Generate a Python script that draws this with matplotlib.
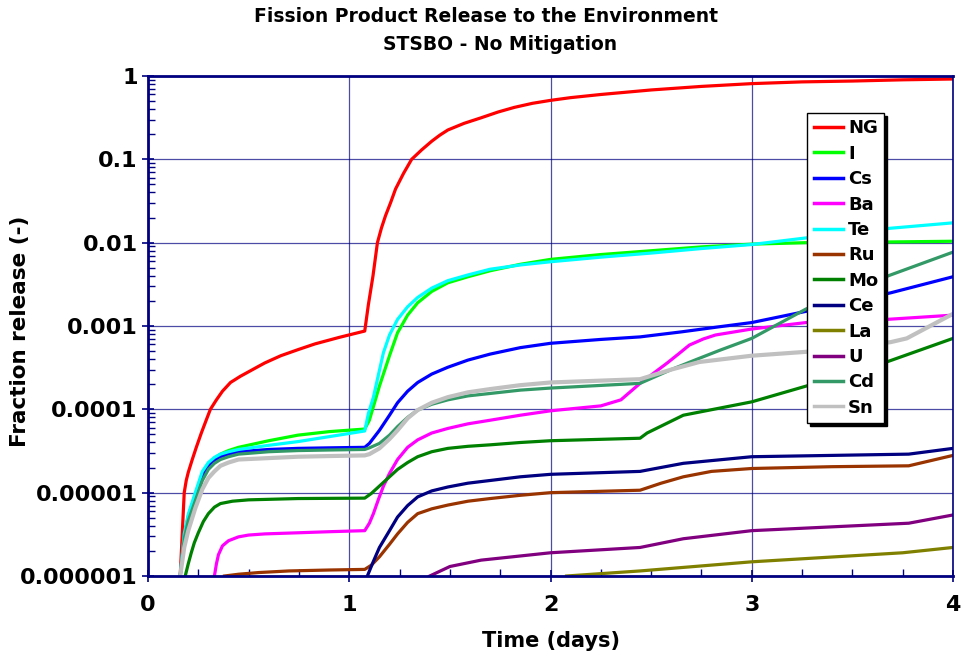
import matplotlib
matplotlib.use('Agg')
import matplotlib.pyplot as plt
from matplotlib.ticker import FixedLocator, LogLocator, MultipleLocator, NullFormatter

# the reference text is wide, DejaVu Sans Bold matches its proportions best
plt.rcParams['font.family'] = ['DejaVu Sans']
plt.rcParams['font.weight'] = 'bold'

# ---- data (time in days, fraction released) ----
ng_t = [0.16, 0.18, 0.19, 0.20, 0.22, 0.24, 0.265, 0.29, 0.31, 0.34, 0.37, 0.41, 0.46, 0.52, 0.58, 0.66,
        0.745, 0.83, 0.95, 1.077, 1.095, 1.118, 1.14, 1.16, 1.18, 1.205, 1.23, 1.27, 1.31, 1.36, 1.41,
        1.45, 1.49, 1.57, 1.655, 1.74, 1.82, 1.91, 2.0, 2.1, 2.25, 2.5, 2.75, 3.0, 3.25, 3.5, 3.75, 4.0]
ng_y = [1e-6, 1e-5, 1.4e-5, 1.75e-5, 2.5e-5, 3.5e-5, 5.2e-5, 7.5e-5, 1.0e-4, 1.3e-4, 1.65e-4, 2.1e-4, 2.5e-4, 3.0e-4, 3.6e-4, 4.4e-4,
        5.2e-4, 6.1e-4, 7.3e-4, 8.7e-4, 1.8e-3, 4.0e-3, 1.0e-2, 1.5e-2, 2.1e-2, 3.0e-2, 4.4e-2, 6.8e-2, 0.10, 0.13, 0.165,
        0.195, 0.225, 0.27, 0.315, 0.37, 0.42, 0.47, 0.51, 0.55, 0.60, 0.68, 0.75, 0.81, 0.85, 0.87, 0.90, 0.92]

early_t = [0.16, 0.18, 0.20, 0.235, 0.27, 0.30, 0.33, 0.36, 0.40, 0.45, 0.60, 0.745, 0.90, 1.077]
rise_t = [1.10, 1.15, 1.20, 1.24, 1.29, 1.34, 1.41, 1.49, 1.59, 1.70, 1.85, 2.0]

i_t = early_t + rise_t + [2.25, 2.5, 2.75, 3.0, 3.27, 3.69, 4.0]
i_y = [1e-6, 3.0e-6, 5.2e-6, 9.5e-6, 1.7e-5, 2.2e-5, 2.6e-5, 2.9e-5, 3.2e-5, 3.5e-5, 4.2e-5, 4.9e-5, 5.4e-5, 5.8e-5,
       7.4e-5, 1.9e-4, 4.4e-4, 8.3e-4, 1.35e-3, 1.9e-3, 2.6e-3, 3.3e-3, 3.9e-3, 4.6e-3, 5.5e-3, 6.3e-3,
       7.2e-3, 8.0e-3, 8.9e-3, 9.6e-3, 1.0e-2, 1.02e-2, 1.04e-2]

te_t = early_t + [1.095, 1.12, 1.145, 1.17, 1.20, 1.24, 1.29, 1.34, 1.41, 1.49, 1.59, 1.70, 1.85, 2.0,
                  2.25, 2.5, 2.75, 3.0, 3.27, 3.5, 3.69, 4.0]
te_y = [1e-6, 3.2e-6, 5.5e-6, 1e-5, 1.8e-5, 2.3e-5, 2.65e-5, 2.9e-5, 3.1e-5, 3.3e-5, 3.7e-5, 4.1e-5, 4.7e-5, 5.5e-5,
        8.9e-5, 1.4e-4, 2.6e-4, 4.8e-4, 7.8e-4, 1.2e-3, 1.7e-3, 2.2e-3, 2.85e-3, 3.5e-3, 4.1e-3, 4.8e-3, 5.4e-3, 5.9e-3,
        6.7e-3, 7.5e-3, 8.5e-3, 9.5e-3, 1.14e-2, 1.33e-2, 1.49e-2, 1.73e-2]

cs_t = early_t + rise_t + [2.25, 2.445, 2.65, 2.84, 3.0, 3.27, 3.69, 4.0]
cs_y = [1e-6, 3.0e-6, 5.0e-6, 9e-6, 1.6e-5, 2.1e-5, 2.45e-5, 2.7e-5, 2.9e-5, 3.1e-5, 3.3e-5, 3.4e-5, 3.45e-5, 3.5e-5,
        3.9e-5, 5.6e-5, 8.5e-5, 1.2e-4, 1.65e-4, 2.1e-4, 2.65e-4, 3.2e-4, 3.9e-4, 4.6e-4, 5.5e-4, 6.2e-4,
        6.9e-4, 7.4e-4, 8.5e-4, 9.8e-4, 1.1e-3, 1.5e-3, 2.5e-3, 3.9e-3]

cd_t = early_t + rise_t + [2.445, 2.6, 2.74, 2.84, 3.0, 3.27, 3.69, 4.0]
cd_y = [1e-6, 2.8e-6, 4.6e-6, 8e-6, 1.4e-5, 1.9e-5, 2.25e-5, 2.5e-5, 2.7e-5, 2.9e-5, 3.1e-5, 3.2e-5, 3.25e-5, 3.3e-5,
        3.45e-5, 3.9e-5, 4.9e-5, 6.2e-5, 8.0e-5, 9.8e-5, 1.15e-4, 1.3e-4, 1.45e-4, 1.55e-4, 1.7e-4, 1.8e-4,
        2.05e-4, 3.0e-4, 4.1e-4, 5.1e-4, 7.1e-4, 1.6e-3, 4.1e-3, 7.7e-3]

sn_t = early_t + rise_t + [2.445, 2.6, 2.74, 3.0, 3.27, 3.69, 3.77, 4.0]
sn_y = [1e-6, 2.2e-6, 3.5e-6, 6.5e-6, 1.1e-5, 1.5e-5, 1.8e-5, 2.1e-5, 2.3e-5, 2.5e-5, 2.6e-5, 2.7e-5, 2.75e-5, 2.8e-5,
        2.9e-5, 3.4e-5, 4.4e-5, 5.6e-5, 7.8e-5, 9.8e-5, 1.2e-4, 1.4e-4, 1.6e-4, 1.75e-4, 1.95e-4, 2.1e-4,
        2.3e-4, 3.0e-4, 3.7e-4, 4.4e-4, 4.9e-4, 6.4e-4, 7.1e-4, 1.4e-3]

ba_t = [0.33, 0.34, 0.35, 0.37, 0.40, 0.45, 0.50, 0.58, 0.745, 0.90, 1.077, 1.10, 1.12, 1.145, 1.17, 1.20, 1.24,
        1.29, 1.34, 1.41, 1.49, 1.59, 1.70, 1.85, 2.0, 2.25, 2.35, 2.445, 2.52, 2.58, 2.64, 2.69, 2.76, 2.82,
        3.0, 3.27, 3.67, 4.0]
ba_y = [1e-6, 1.4e-6, 1.8e-6, 2.3e-6, 2.65e-6, 2.95e-6, 3.1e-6, 3.2e-6, 3.3e-6, 3.4e-6, 3.5e-6, 4.3e-6, 5.6e-6, 8.3e-6,
        1.2e-5, 1.7e-5, 2.5e-5, 3.5e-5, 4.3e-5, 5.2e-5, 5.9e-5, 6.7e-5, 7.4e-5, 8.5e-5, 9.6e-5, 1.1e-4, 1.3e-4,
        2.05e-4, 2.8e-4, 3.6e-4, 4.7e-4, 5.9e-4, 7.0e-4, 7.8e-4, 9.2e-4, 1.1e-3, 1.2e-3, 1.35e-3]

ru_t = [0.38, 0.45, 0.55, 0.70, 0.90, 1.077, 1.11, 1.15, 1.20, 1.24, 1.29, 1.34, 1.41, 1.49, 1.59, 1.70, 1.85,
        2.0, 2.445, 2.55, 2.66, 2.8, 3.0, 3.4, 3.78, 4.0]
ru_y = [1e-6, 1.05e-6, 1.1e-6, 1.15e-6, 1.18e-6, 1.2e-6, 1.35e-6, 1.7e-6, 2.4e-6, 3.2e-6, 4.4e-6, 5.6e-6, 6.4e-6,
        7.1e-6, 7.9e-6, 8.5e-6, 9.3e-6, 1.0e-5, 1.07e-5, 1.3e-5, 1.55e-5, 1.8e-5, 1.95e-5, 2.05e-5, 2.1e-5, 2.8e-5]

mo_t = [0.185, 0.20, 0.215, 0.23, 0.25, 0.275, 0.30, 0.33, 0.36, 0.42, 0.50, 0.745, 1.077, 1.11, 1.15, 1.20,
        1.24, 1.29, 1.34, 1.41, 1.49, 1.59, 1.70, 1.85, 2.0, 2.445, 2.48, 2.66, 3.0, 3.27, 3.67, 4.0]
mo_y = [1e-6, 1.4e-6, 1.9e-6, 2.5e-6, 3.3e-6, 4.5e-6, 5.6e-6, 6.7e-6, 7.4e-6, 7.9e-6, 8.2e-6, 8.5e-6, 8.6e-6,
        9.8e-6, 1.2e-5, 1.55e-5, 1.9e-5, 2.3e-5, 2.7e-5, 3.1e-5, 3.4e-5, 3.6e-5, 3.75e-5, 4.0e-5, 4.2e-5,
        4.5e-5, 5.2e-5, 8.5e-5, 1.23e-4, 1.9e-4, 3.7e-4, 7.1e-4]

ce_t = [1.09, 1.12, 1.15, 1.20, 1.24, 1.29, 1.34, 1.41, 1.49, 1.59, 1.70, 1.85, 2.0, 2.445, 2.66, 3.0, 3.78, 4.0]
ce_y = [1e-6, 1.5e-6, 2.2e-6, 3.5e-6, 5.1e-6, 7.0e-6, 8.9e-6, 1.05e-5, 1.17e-5, 1.3e-5, 1.4e-5, 1.55e-5,
        1.66e-5, 1.8e-5, 2.25e-5, 2.7e-5, 2.9e-5, 3.4e-5]

la_t = [2.08, 2.445, 3.0, 3.75, 4.0]
la_y = [1e-6, 1.15e-6, 1.48e-6, 1.9e-6, 2.2e-6]

u_t = [1.40, 1.50, 1.655, 2.0, 2.445, 2.66, 3.0, 3.78, 4.0]
u_y = [1e-6, 1.3e-6, 1.55e-6, 1.9e-6, 2.2e-6, 2.8e-6, 3.5e-6, 4.3e-6, 5.4e-6]

series = [
    ('NG', ng_t, ng_y, '#FF0000'),
    ('I', i_t, i_y, '#00FF00'),
    ('Cs', cs_t, cs_y, '#0000FF'),
    ('Ba', ba_t, ba_y, '#FF00FF'),
    ('Te', te_t, te_y, '#00FFFF'),
    ('Ru', ru_t, ru_y, '#993300'),
    ('Mo', mo_t, mo_y, '#008000'),
    ('Ce', ce_t, ce_y, '#000080'),
    ('La', la_t, la_y, '#808000'),
    ('U', u_t, u_y, '#800080'),
    ('Cd', cd_t, cd_y, '#339966'),
    ('Sn', sn_t, sn_y, '#C0C0C0'),
]

ytick_vals = [1e-6, 1e-5, 1e-4, 1e-3, 1e-2, 1e-1, 1]
ytick_labels = ['0.000001', '0.00001', '0.0001', '0.001', '0.01', '0.1', '1']

navy = '#000080'

fig = plt.figure(figsize=(9.61, 6.60), dpi=100)
ax = fig.add_axes([148 / 961, 1 - 576 / 660, 805 / 961, 500 / 660])

for name, t, y, c in series:
    lw = 3.0 if name == 'Sn' else 2.3
    ax.plot(t, y, color=c, linewidth=lw, label=name, solid_joinstyle='round')

ax.set_yscale('log')
ax.set_xlim(0, 4)
ax.set_ylim(1e-6, 1)

ax.yaxis.set_major_locator(FixedLocator(ytick_vals))
ax.set_yticklabels(ytick_labels)
ax.yaxis.set_minor_locator(LogLocator(base=10, subs=range(2, 10), numticks=20))
ax.yaxis.set_minor_formatter(NullFormatter())
ax.xaxis.set_major_locator(MultipleLocator(1))
ax.xaxis.set_minor_locator(MultipleLocator(0.25))

ax.grid(True, which='major', color=navy, linewidth=0.9, alpha=0.7)
ax.tick_params(which='major', direction='inout', length=9, width=1.2, color=navy, labelsize=16)
ax.tick_params(which='minor', direction='in', length=5, width=1.0, color=navy)
ax.tick_params(axis='x', which='major', pad=9)
ax.tick_params(axis='y', which='major', pad=3)
for lbl in ax.get_xticklabels() + ax.get_yticklabels():
    lbl.set_fontweight('bold')

for side in ['left', 'bottom', 'top']:
    ax.spines[side].set_color(navy)
    ax.spines[side].set_linewidth(2.0)
ax.spines['right'].set_color(navy)
ax.spines['right'].set_linewidth(1.2)

ax.set_xlabel('Time (days)', fontsize=15, fontweight='bold')
ax.xaxis.set_label_coords(0.5, -0.11)
ax.set_ylabel('Fraction release (-)', fontsize=15.5, fontweight='bold')
ax.yaxis.set_label_coords(-0.147, 0.49)
fig.text(486 / 961, 1 - 17 / 660, 'Fission Product Release to the Environment',
         ha='center', va='center', fontsize=13.5, fontweight='bold')
fig.text(500 / 961, 1 - 44 / 660, 'STSBO - No Mitigation',
         ha='center', va='center', fontsize=13.5, fontweight='bold')

leg = ax.legend(loc='upper left', bbox_to_anchor=(0.819, 0.926), fancybox=False,
                shadow={'color': 'black', 'alpha': 1.0}, framealpha=1, edgecolor='black',
                prop={'weight': 'bold', 'size': 13}, handlelength=1.65, handletextpad=0.25,
                labelspacing=0.41, borderpad=0.35, borderaxespad=0)
leg.get_frame().set_linewidth(1.0)
for line in leg.get_lines():
    line.set_linewidth(2.5)

fig.savefig('out.png', dpi=100)
